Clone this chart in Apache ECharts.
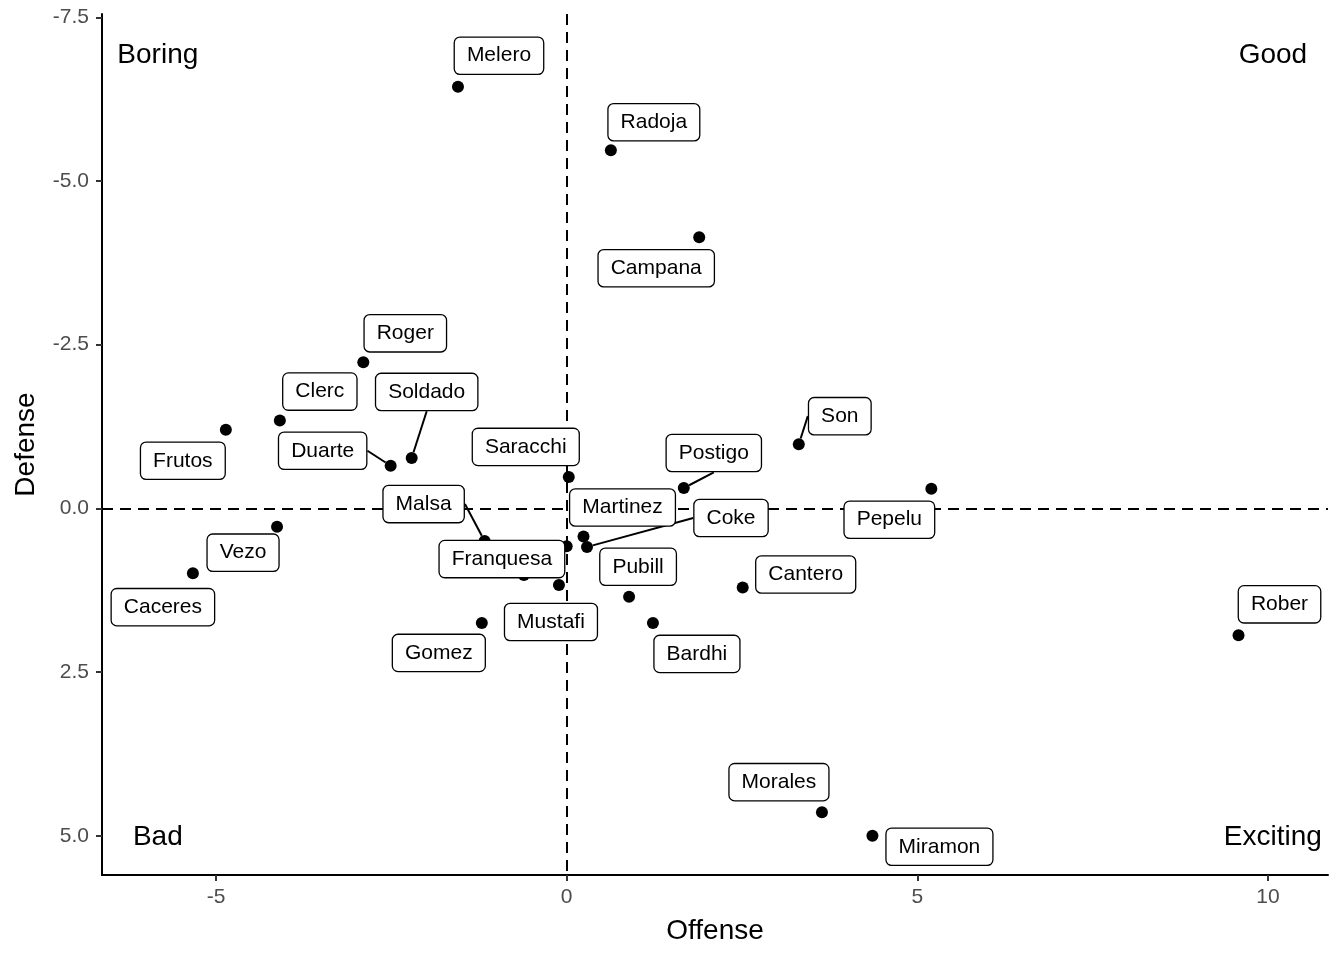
<!DOCTYPE html>
<html><head><meta charset="utf-8">
<script src="https://cdn.jsdelivr.net/npm/echarts@6/dist/echarts.min.js"></script>
<style>html,body{margin:0;padding:0;background:#fff}#c{width:1344px;height:960px}</style>
</head><body><div id="c"></div>
<script>
// ---- data ----
const players = ['Melero','Radoja','Campana','Roger','Clerc','Soldado','Duarte','Frutos','Saracchi','Postigo','Son','Pepelu','Vezo','Caceres','Malsa','Franquesa','Martinez','Coke','Mustafi','Pubill','Cantero','Gomez','Bardhi','Rober','Morales','Miramon'];
const offense = [-1.55, 0.63, 1.89, -2.90, -4.09, -2.21, -2.51, -4.86, 0.03, 1.67, 3.31, 5.20, -4.13, -5.33, -1.17, -0.61, 0.24, 0.29, -0.11, 0.89, 2.51, -1.21, 1.23, 9.58, 3.64, 4.36];
const defense = [-6.44, -5.47, -4.14, -2.23, -1.34, -0.77, -0.65, -1.20, -0.48, -0.31, -0.98, -0.30, 0.28, 0.99, 0.50, 1.02, 0.43, 0.59, 1.17, 1.35, 1.21, 1.75, 1.75, 1.94, 4.64, 5.00];
// points without a label
const unlabeledOffense = [0.00];
const unlabeledDefense = [0.58];
// axis ticks
const xTicks = [-5, 0, 5, 10];
const xTickLabels = ['-5', '0', '5', '10'];
const yTicks = [-7.5, -5, -2.5, 0, 2.5, 5];
const yTickLabels = ['-7.5', '-5.0', '-2.5', '0.0', '2.5', '5.0'];
// quadrant annotations
const quadrantNames = ['Boring', 'Good', 'Bad', 'Exciting'];
const quadrantOffense = [-5.83, 10.07, -5.83, 10.07];
const quadrantDefense = [-6.92, -6.92, 5.03, 5.03];

// ---- layout (repel-style label nudges in pixels, and which get a segment) ----
const labelNudge = [[41,-31],[43,-28],[-43,31],[42,-29],[40,-29],[15,-66],[-68,-15],[-43,31],[-43,-30],[30,-35],[41,-28],[-42,31],[-34,26],[-30,34],[-61,-37],[-22,-16],[39,-29],[144,-29],[-8,37],[9,-30],[63,-13],[-43,30],[44,31],[41,-31],[-43,-30],[67,11]];
const withSegment = ['Soldado','Duarte','Postigo','Son','Coke','Malsa'];

const FONT = '"Liberation Sans", Arial, Helvetica, sans-serif';

function fmt(ticks, labels) {
  return function (v) {
    let best = 0;
    for (let i = 1; i < ticks.length; i++) if (Math.abs(ticks[i] - v) < Math.abs(ticks[best] - v)) best = i;
    return labels[best];
  };
}

const chart = echarts.init(document.getElementById('c'), null, {renderer: 'canvas'});

const axisCommon = {
  type: 'value',
  splitLine: {show: false},
  axisLine: {onZero: false, lineStyle: {color: '#000', width: 2}},
  nameLocation: 'middle',
  nameTextStyle: {fontSize: 28, color: '#000', fontFamily: FONT}
};

const mainData = players.map((n, i) => ({
  name: n,
  value: [offense[i], defense[i]],
  labelLine: {show: withSegment.indexOf(n) >= 0}
}));

chart.setOption({
  animation: false,
  backgroundColor: '#fff',
  grid: {left: 102, right: 16, top: 14, bottom: 85, containLabel: false},
  xAxis: Object.assign({}, axisCommon, {
    min: -6.626, max: 10.856,
    name: 'Offense', nameGap: 42,
    axisTick: {length: 6, lineStyle: {color: '#333', width: 2}, customValues: xTicks},
    axisLabel: {customValues: xTicks, formatter: fmt(xTicks, xTickLabels), fontSize: 21, color: '#4d4d4d', margin: 12, fontFamily: FONT}
  }),
  yAxis: Object.assign({}, axisCommon, {
    inverse: true,
    min: -7.55, max: 5.6,
    name: 'Defense', nameGap: 62,
    axisTick: {length: 6, lineStyle: {color: '#333', width: 2}, customValues: yTicks},
    axisLabel: {customValues: yTicks, formatter: fmt(yTicks, yTickLabels), fontSize: 21, color: '#4d4d4d', margin: 13, fontFamily: FONT}
  }),
  series: [
    {
      type: 'scatter', z: 1, silent: true, symbolSize: 0,
      data: [],
      markLine: {
        z: 1, silent: true, symbol: 'none', label: {show: false},
        lineStyle: {color: '#000', type: [11, 7], width: 2, opacity: 1},
        data: [{xAxis: 0}, {yAxis: 0}]
      }
    },
    {
      type: 'scatter', z: 2, silent: true,
      symbol: 'circle', symbolSize: 12,
      itemStyle: {color: '#000', opacity: 1},
      data: unlabeledOffense.map((x, i) => [x, unlabeledDefense[i]])
    },
    {
      type: 'scatter', z: 3, silent: true,
      symbol: 'circle', symbolSize: 12,
      itemStyle: {color: '#000', opacity: 1},
      data: mainData,
      label: {
        show: true, position: 'inside', formatter: '{b}',
        fontSize: 21, fontFamily: FONT, color: '#000', lineHeight: 22,
        backgroundColor: '#fff', borderColor: '#000', borderWidth: 1.3, borderRadius: 5,
        padding: [9, 12, 5, 12]
      },
      labelLine: {show: false, lineStyle: {color: '#000', width: 2, opacity: 1}},
      labelLayout: function (p) {
        const n = labelNudge[p.dataIndex];
        const res = {dx: n[0], dy: n[1], hideOverlap: false};
        if (withSegment.indexOf(players[p.dataIndex]) >= 0) {
          const px = p.rect.x + p.rect.width / 2, py = p.rect.y + p.rect.height / 2;
          const lr = p.labelRect;
          const cx = lr.x + lr.width / 2 + n[0], cy = lr.y + lr.height / 2 + n[1];
          const ddx = px - cx, ddy = py - cy;
          const tx = ddx !== 0 ? (lr.width / 2) / Math.abs(ddx) : Infinity;
          const ty = ddy !== 0 ? (lr.height / 2) / Math.abs(ddy) : Infinity;
          const t = Math.min(tx, ty);
          res.labelLinePoints = [[px, py], [cx + ddx * t, cy + ddy * t]];
        }
        return res;
      }
    },
    {
      type: 'scatter', z: 4, silent: true, symbolSize: 0,
      itemStyle: {opacity: 1},
      data: quadrantNames.map((n, i) => ({name: n, value: [quadrantOffense[i], quadrantDefense[i]]})),
      label: {show: true, position: 'inside', formatter: '{b}', fontSize: 28, color: '#000', fontFamily: FONT}
    }
  ]
});
</script></body></html>
